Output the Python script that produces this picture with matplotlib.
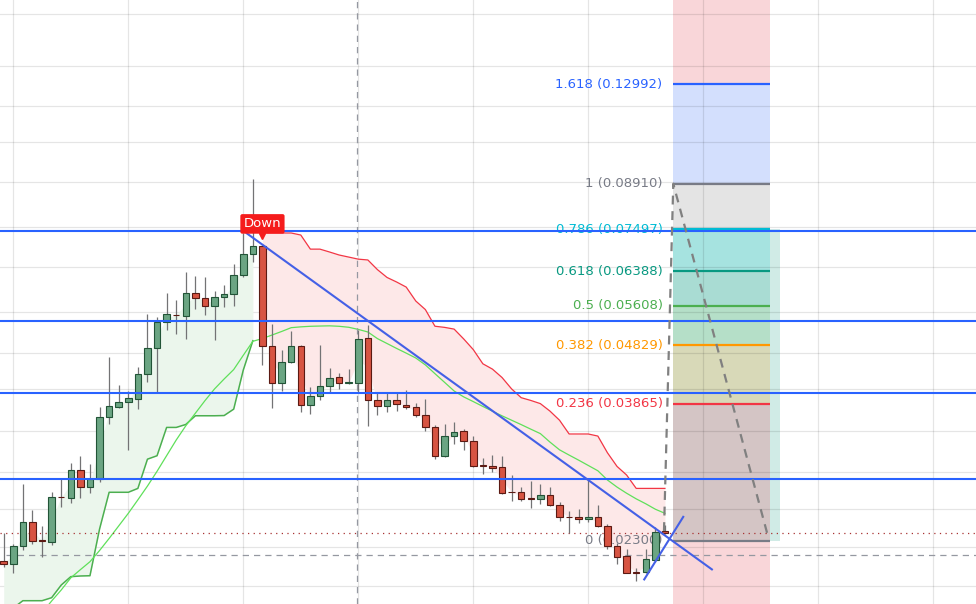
import numpy as np
import matplotlib
matplotlib.use('Agg')
import matplotlib.pyplot as plt
from matplotlib.patches import Rectangle

# ---------------- data (prices, log scale) ----------------
opens = [0.02127, 0.02103, 0.02251, 0.02466, 0.02306, 0.02291, 0.02714, 0.02700, 0.03008, 0.02816,
         0.02902, 0.03672, 0.03826, 0.03886, 0.03940, 0.04323, 0.04770, 0.05268, 0.05425, 0.05400,
         0.05879, 0.05773, 0.05608, 0.05789, 0.05857, 0.06295, 0.06817, 0.07048, 0.04818, 0.04179,
         0.04537, 0.04818, 0.03847, 0.03977, 0.04131, 0.04273, 0.04185, 0.04187, 0.04955, 0.03930,
         0.03834, 0.03930, 0.03856, 0.03814, 0.03701, 0.03535, 0.03175, 0.03417, 0.03484, 0.03353,
         0.03065, 0.03056, 0.03037, 0.02767, 0.02764, 0.02704, 0.02696, 0.02732, 0.02630, 0.02520,
         0.02515, 0.02496, 0.02515, 0.02434, 0.02254, 0.02167, 0.02042, 0.02040, 0.02136, 0.02383]
highs = [0.02370, 0.02271, 0.02852, 0.02584, 0.02431, 0.02767, 0.02909, 0.03085, 0.03171, 0.03073,
         0.03826, 0.04611, 0.04147, 0.04063, 0.04445, 0.05435, 0.05379, 0.05879, 0.05732, 0.06375,
         0.06278, 0.06253, 0.05931, 0.06067, 0.06571, 0.07391, 0.09063, 0.07062, 0.05227, 0.04742,
         0.05097, 0.04831, 0.04124, 0.04831, 0.04422, 0.04340, 0.04405, 0.05116, 0.05213, 0.04023,
         0.04023, 0.04038, 0.04074, 0.03874, 0.03935, 0.03567, 0.03581, 0.03613, 0.03515, 0.03421,
         0.03147, 0.03180, 0.03167, 0.02948, 0.02822, 0.02885, 0.02852, 0.02816, 0.02661, 0.02574,
         0.02592, 0.02905, 0.02633, 0.02450, 0.02280, 0.02225, 0.02071, 0.02225, 0.02425, 0.02438]
lows = [0.02079, 0.02032, 0.02220, 0.02271, 0.02164, 0.02265, 0.02613, 0.02657, 0.02707, 0.02759,
        0.02874, 0.03577, 0.03808, 0.03245, 0.03794, 0.04200, 0.04032, 0.05116, 0.05038, 0.04947,
        0.05543, 0.05421, 0.04925, 0.05586, 0.05608, 0.06246, 0.06609, 0.04488, 0.03808, 0.04063,
        0.04509, 0.03744, 0.03715, 0.03930, 0.04032, 0.04083, 0.04168, 0.04048, 0.03557, 0.03705,
        0.03748, 0.03758, 0.03791, 0.03672, 0.03492, 0.03138, 0.03164, 0.03323, 0.03246, 0.03046,
        0.02966, 0.02985, 0.02743, 0.02674, 0.02674, 0.02606, 0.02643, 0.02628, 0.02476, 0.02365,
        0.02463, 0.02472, 0.02426, 0.02233, 0.02103, 0.02032, 0.01971, 0.02032, 0.02124, 0.02359]
closes = [0.02106, 0.02254, 0.02466, 0.02300, 0.02300, 0.02711, 0.02710, 0.03008, 0.02816, 0.02905,
          0.03672, 0.03829, 0.03889, 0.03946, 0.04323, 0.04770, 0.05268, 0.05429, 0.05414, 0.05879,
          0.05767, 0.05608, 0.05796, 0.05857, 0.06295, 0.06817, 0.07048, 0.04822, 0.04179, 0.04537,
          0.04818, 0.03847, 0.03977, 0.04131, 0.04267, 0.04179, 0.04192, 0.04935, 0.03930, 0.03834,
          0.03930, 0.03863, 0.03814, 0.03701, 0.03535, 0.03175, 0.03421, 0.03470, 0.03353, 0.03056,
          0.03059, 0.03033, 0.02759, 0.02762, 0.02696, 0.02698, 0.02732, 0.02630, 0.02520, 0.02515,
          0.02499, 0.02515, 0.02431, 0.02251, 0.02164, 0.02037, 0.02038, 0.02142, 0.02374, 0.02365]

# supertrend (up: bars 0-26, down: bars 27-69)
st_up = [0.01735, 0.01782, 0.01832, 0.01832, 0.01832, 0.01853, 0.01944, 0.02007, 0.02012, 0.02014,
         0.02404, 0.02764, 0.02764, 0.02764, 0.02805, 0.03134, 0.03175, 0.03535, 0.03535, 0.03575,
         0.03695, 0.03695, 0.03695, 0.03698, 0.03789, 0.04395, 0.04912]
st_down = [0.07391, 0.07391, 0.07391, 0.07391, 0.07334, 0.06952, 0.06952, 0.06877, 0.06799, 0.06746,
           0.06693, 0.06672, 0.06432, 0.06244, 0.06137, 0.06020, 0.05710, 0.05528, 0.05189, 0.05167,
           0.05133, 0.04945, 0.04749, 0.04500, 0.04410, 0.04272, 0.04091, 0.03957, 0.03916, 0.03869,
           0.03761, 0.03633, 0.03448, 0.03448, 0.03448, 0.03421, 0.03211, 0.03049, 0.02951, 0.02805,
           0.02805, 0.02805, 0.02805]
# moving average (bars 4-69)
ma_vals = [0.01750, 0.01830, 0.01908, 0.01998, 0.02061, 0.02124, 0.02216, 0.02320, 0.02433, 0.02552,
           0.02686, 0.02830, 0.02993, 0.03176, 0.03370, 0.03557, 0.03731, 0.03913, 0.04091, 0.04248,
           0.04403, 0.04648, 0.04901, 0.04953, 0.05019, 0.05087, 0.05161, 0.05177, 0.05188, 0.05193,
           0.05197, 0.05188, 0.05169, 0.05127, 0.05077, 0.04951, 0.04860, 0.04770, 0.04686, 0.04600,
           0.04481, 0.04335, 0.04195, 0.04059, 0.03969, 0.03899, 0.03828, 0.03760, 0.03694, 0.03633,
           0.03573, 0.03512, 0.03453, 0.03344, 0.03247, 0.03183, 0.03122, 0.03060, 0.02999, 0.02896,
           0.02819, 0.02754, 0.02696, 0.02646, 0.02592, 0.02552]

# horizontal support/resistance lines
h_levels = [0.07456, 0.05296, 0.04029, 0.02908]
# trend lines (bar index, price)
trend1_x = [25.36, 73.9]
trend1_y = [0.07382, 0.02063]
trend2_x = [66.84, 70.91]
trend2_y = [0.01986, 0.02518]

# fibonacci
fib_ratios = ['1.618', '1', '0.786', '0.618', '0.5', '0.382', '0.236', '0']
fib_prices = [0.12992, 0.08910, 0.07497, 0.06388, 0.05608, 0.04829, 0.03865, 0.02300]
fib_colors = ['#2962ff', '#787b86', '#00bcd4', '#089981', '#4caf50', '#ff9800', '#f23645', '#787b86']
zone_colors = ['#f9d6d9', '#d3dffd', '#e4e4e4', '#a6e3e0', '#a9dcd3', '#b5dfc8', '#d8d9b8', '#d4c5c5', '#f9d6d9']
fib_trend_x = [68.9, 69.87, 79.75]
fib_trend_y = [0.02386, 0.08910, 0.02340]

grid_prices = [0.1694, 0.1395, 0.1195, 0.1045, 0.0896, 0.0755, 0.0649, 0.0547, 0.04684,
               0.04083, 0.03482, 0.02990, 0.02592, 0.02242, 0.01940]
grid_bars = [1, 13, 25, 37, 49, 61, 73, 85, 97]
cross_bar = 36.9
cross_price = 0.02177
last_price = 0.02367

# ---------------- figure ----------------
fig = plt.figure(figsize=(9.76, 6.04), dpi=100)
fig.patch.set_facecolor('white')
ax = fig.add_axes([0, 0, 1, 1])
ax.set_yscale('log')
ax.set_xlim(-0.388, 101.46)
ax.set_ylim(0.018092, 0.17888)
ax.axis('off')

o = np.array(opens); h = np.array(highs); l = np.array(lows); c = np.array(closes)
x = np.arange(len(o))
mid = (o + c) / 2

# fib zones
fx0, fx1, rx1 = 69.84, 79.96, 81.0
ax.add_patch(Rectangle((fx0, fib_prices[-1]), rx1 - fx0, fib_prices[2] - fib_prices[-1],
                       facecolor='#d0ebe6', edgecolor='none', zorder=1))
bounds = [0.3] + fib_prices + [0.015]
for i in range(len(bounds) - 1):
    hi, lo = bounds[i], bounds[i + 1]
    ax.add_patch(Rectangle((fx0, lo), fx1 - fx0, hi - lo, facecolor=zone_colors[i],
                           edgecolor='none', zorder=1.1))

# grid
for p in grid_prices:
    ax.axhline(p, color=(0, 0, 0, 0.1), lw=0.9, zorder=1.5)
for b in grid_bars:
    ax.axvline(b, color=(0, 0, 0, 0.1), lw=0.9, zorder=1.5)

# supertrend fills and lines
xu = x[:len(st_up)]
xd = x[len(st_up):]
ax.fill_between(xu, st_up, mid[:len(st_up)], color='#ebf6ec', lw=0, zorder=2)
ax.fill_between(xd, mid[len(st_up):], st_down, color='#fde8e8', lw=0, zorder=2)
ax.plot(xu, st_up, color='#4caf50', lw=1.1, zorder=3)
ax.plot(xd, st_down, color='#f23645', lw=0.9, zorder=3)
xm = np.arange(len(o) - len(ma_vals), len(o))
ax.plot(xm, ma_vals, color='#5fe05a', lw=0.9, zorder=3)

# crosshair and last price line
ax.axvline(cross_bar, color='#9598a1', lw=0.9, ls=(0, (5, 4)), zorder=3.5)
ax.axhline(cross_price, xmin=6 / 976, color='#9598a1', lw=0.9, ls=(0, (5, 4)), zorder=3.5)
ax.axhline(last_price, color='#a83232', lw=0.9, ls=(0, (1, 3.5)), zorder=3.5)

# fib levels + labels
ax.hlines(fib_prices, fx0, fx1, colors=fib_colors, lw=1.6, zorder=4)
for r, p, col in zip(fib_ratios, fib_prices, fib_colors):
    ax.text(68.75, p, f'{r} ({p:.5f})', color=col, fontsize=9.5, ha='right', va='center', zorder=4)

# candles
ax.vlines(x, l, h, color='#737375', lw=0.9, zorder=5)
up = c >= o
bottoms = np.minimum(o, c)
heights = np.maximum(np.abs(c - o), 1e-6)
ax.bar(x[up], heights[up], bottom=bottoms[up], width=0.68, color='#6ba583',
       edgecolor='#225437', lw=0.8, zorder=6)
ax.bar(x[~up], heights[~up], bottom=bottoms[~up], width=0.68, color='#d75442',
       edgecolor='#5b1a13', lw=0.8, zorder=6)

# blue horizontal lines and trend lines
for p in h_levels:
    ax.axhline(p, color='#2962ff', lw=1.5, zorder=7)
ax.plot(trend1_x, trend1_y, color='#4460e6', lw=1.5, zorder=8)
ax.plot(trend2_x, trend2_y, color='#4460e6', lw=1.5, zorder=8)
ax.plot(fib_trend_x, fib_trend_y, color='#808080', lw=1.6, ls=(0, (4, 3)), zorder=8)

# Down label
ax.plot([27], [0.0731], marker='v', color='#f51c1c', ms=4, zorder=9)
ax.text(27, 0.0765, 'Down', color='white', fontsize=9.5, ha='center', va='center', zorder=10,
        bbox=dict(boxstyle='round,pad=0.25,rounding_size=0.15', fc='#f51c1c', ec='none'))

fig.savefig('out.png', dpi=100, facecolor='white')
